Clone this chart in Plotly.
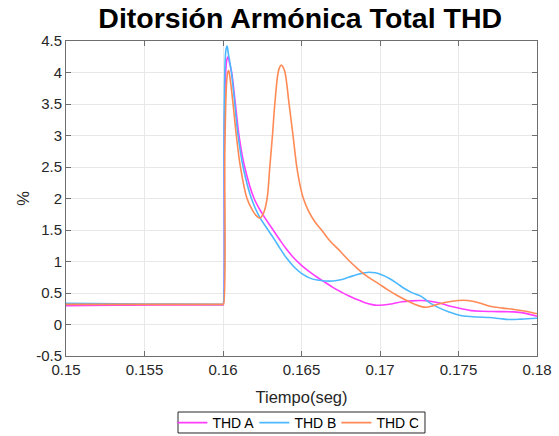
import plotly.graph_objects as go

# ---- data (time in s, THD in %) ----
t_a = [0.150, 0.153, 0.156, 0.15999, 0.16001, 0.16008, 0.16016, 0.16025, 0.16032, 0.16042,
       0.16055, 0.16079, 0.16102, 0.16138, 0.16198, 0.16250, 0.16319, 0.16360, 0.16400,
       0.16450, 0.16500, 0.16550, 0.16600, 0.16650, 0.16700, 0.16750, 0.16800, 0.16850,
       0.16900, 0.16950, 0.16980, 0.17020, 0.17080, 0.17140, 0.17200, 0.17260, 0.17320,
       0.17380, 0.17450, 0.17520, 0.17580, 0.17650, 0.17750, 0.17850, 0.17920, 0.18000]
thd_a = [0.30, 0.305, 0.31, 0.31, 0.31, 2.9, 3.95, 4.21, 4.25, 4.15,
         4.00, 3.50, 3.00, 2.50, 2.00, 1.76, 1.50, 1.35, 1.21,
         1.06, 0.94, 0.84, 0.75, 0.67, 0.59, 0.52, 0.455, 0.40,
         0.35, 0.315, 0.305, 0.31, 0.33, 0.36, 0.375, 0.38, 0.37,
         0.34, 0.29, 0.25, 0.22, 0.21, 0.205, 0.20, 0.18, 0.13]

t_b = [0.150, 0.155, 0.15999, 0.16001, 0.16007, 0.16014, 0.16020, 0.16026, 0.16034, 0.16054,
       0.16075, 0.16096, 0.16128, 0.16181, 0.16230, 0.16287, 0.16330, 0.16360, 0.16400,
       0.16450, 0.16500, 0.16550, 0.16600, 0.16650, 0.16700, 0.16750, 0.16800, 0.16850,
       0.16900, 0.16930, 0.16970, 0.17010, 0.17060, 0.17110, 0.17150, 0.17200, 0.17260,
       0.17320, 0.17380, 0.17440, 0.17500, 0.17550, 0.17620, 0.17700, 0.17760, 0.17820,
       0.17900, 0.18000]
thd_b = [0.335, 0.325, 0.32, 0.32, 3.2, 4.2, 4.38, 4.42, 4.30, 4.00,
         3.50, 3.00, 2.50, 2.00, 1.72, 1.50, 1.34, 1.22, 1.07,
         0.92, 0.81, 0.74, 0.705, 0.69, 0.69, 0.71, 0.75, 0.79,
         0.82, 0.83, 0.82, 0.79, 0.73, 0.65, 0.58, 0.51, 0.45,
         0.34, 0.26, 0.20, 0.15, 0.13, 0.118, 0.11, 0.095, 0.08,
         0.085, 0.10]

t_c = [0.150, 0.155, 0.15999, 0.16003, 0.16012, 0.16022, 0.16030, 0.16036, 0.16048, 0.16064,
       0.16085, 0.16111, 0.16153, 0.16191, 0.16215, 0.16237, 0.16260, 0.16281, 0.16298,
       0.16315, 0.16330, 0.16351, 0.16362, 0.16372, 0.16383, 0.16395, 0.16421, 0.16446,
       0.16470, 0.16490, 0.16512, 0.16545, 0.16585, 0.16628, 0.16680, 0.16740, 0.16800,
       0.16860, 0.16920, 0.16990, 0.17050, 0.17110, 0.17170, 0.17220, 0.17270, 0.17300,
       0.17330, 0.17380, 0.17460, 0.17530, 0.17590, 0.17650, 0.17700, 0.17780, 0.17850,
       0.17930, 0.18000]
thd_c = [0.32, 0.32, 0.32, 0.32, 2.8, 3.8, 4.00, 4.03, 3.85, 3.50,
         3.00, 2.50, 2.00, 1.80, 1.72, 1.69, 1.78, 2.00, 2.50,
         3.00, 3.50, 4.00, 4.09, 4.12, 4.08, 4.00, 3.50, 3.00,
         2.50, 2.22, 2.00, 1.80, 1.63, 1.50, 1.33, 1.18, 1.02,
         0.88, 0.76, 0.65, 0.55, 0.46, 0.38, 0.32, 0.28, 0.275,
         0.29, 0.33, 0.37, 0.385, 0.37, 0.33, 0.29, 0.26, 0.24,
         0.21, 0.17]

x_ticks = [0.15, 0.155, 0.16, 0.165, 0.17, 0.175, 0.18]
x_tick_text = ["0.15", "0.155", "0.16", "0.165", "0.17", "0.175", "0.18"]
y_ticks = [-0.5, 0, 0.5, 1, 1.5, 2, 2.5, 3, 3.5, 4, 4.5]
y_tick_text = ["-0.5", "0", "0.5", "1", "1.5", "2", "2.5", "3", "3.5", "4", "4.5"]

names = ["THD A", "THD B", "THD C"]
colors = ["#ff3dff", "#4db8ff", "#ff8a55"]

FONT = "Liberation Sans, Arial, Helvetica, sans-serif"

fig = go.Figure()
for tt, vv, nm, col in zip([t_a, t_b, t_c], [thd_a, thd_b, thd_c], names, colors):
    fig.add_trace(go.Scatter(x=tt, y=vv, name=nm, mode="lines",
                             line=dict(color=col, width=1.6, shape="spline", smoothing=1.0)))

axis_common = dict(showline=True, mirror="ticks", linecolor="#6e6e6e", linewidth=1,
                   ticks="inside", ticklen=5, tickcolor="#6e6e6e",
                   showgrid=True, gridcolor="#e8e8e8", gridwidth=1, zeroline=False,
                   automargin=False,
                   tickfont=dict(family=FONT, size=15, color="#262626"))

fig.update_layout(
    width=559, height=436,
    margin=dict(l=66, r=22, t=41, b=80),
    paper_bgcolor="white", plot_bgcolor="white",
    title=dict(text="<b>Ditorsión Armónica Total THD</b>", x=0.537, xanchor="center",
               y=0.958, yanchor="middle", yref="container",
               font=dict(family=FONT, size=28.5, color="#000000")),
    xaxis=dict(range=[0.15, 0.18], tickvals=x_ticks, ticktext=x_tick_text,
               title=dict(text="Tiempo(seg)", standoff=14,
                          font=dict(family=FONT, size=16.5, color="#262626")),
               **axis_common),
    yaxis=dict(range=[-0.5, 4.5], tickvals=y_ticks, ticktext=y_tick_text,
               title=dict(text="%", standoff=2,
                          font=dict(family=FONT, size=16.5, color="#262626")),
               **axis_common),
    legend=dict(orientation="h", x=0.487, xanchor="center", y=0.0298, yanchor="middle",
                yref="container",
                borderwidth=0, bgcolor="rgba(0,0,0,0)",
                font=dict(family=FONT, size=14, color="#000000"),
                itemwidth=30, entrywidth=37, tracegroupgap=0),
    shapes=[dict(type="rect", xref="paper", yref="paper",
                 x0=0.2378, x1=0.7622, y0=-0.2444, y1=-0.1778,
                 line=dict(color="#262626", width=1), fillcolor="rgba(0,0,0,0)",
                 layer="below")],
    showlegend=True,
)

fig.write_html("out.html")
